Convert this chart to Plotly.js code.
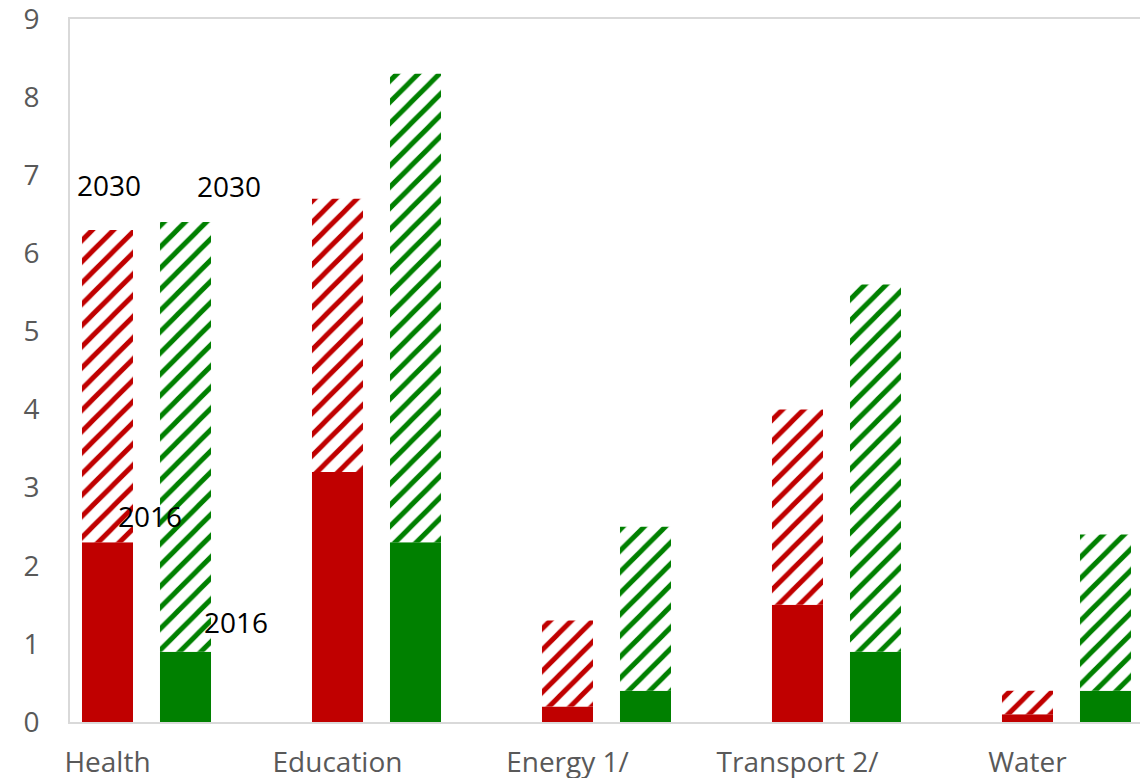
<!DOCTYPE html>
<html>
<head>
<meta charset="utf-8">
<script src="https://cdn.plot.ly/plotly-3.0.1.min.js"></script>
<style>html,body{margin:0;padding:0;background:#fff;}#chart{width:1140px;height:778px;}</style>
</head>
<body>
<div id="chart"></div>
<script>
var categories = ["Health", "Education", "Energy 1/", "Transport 2/", "Water"];
var red2016 = [2.3, 3.2, 0.2, 1.5, 0.1];
var red2030 = [6.3, 6.7, 1.3, 4.0, 0.4];
var green2016 = [0.9, 2.3, 0.4, 0.9, 0.4];
var green2030 = [6.4, 8.3, 2.5, 5.6, 2.4];
var yTicks = [0, 1, 2, 3, 4, 5, 6, 7, 8, 9];

var RED = "#C00000", GREEN = "#008000";
var idx = categories.map(function (c, i) { return i; });
function diff(a, b) { return a.map(function (v, i) { return +(v - b[i]).toFixed(3); }); }

var pat = function (c) { return {shape: "/", fgcolor: c, bgcolor: "#ffffff", size: 15, solidity: 0.33, fillmode: "replace"}; };

var traces = [
  {type: "bar", x: idx, y: red2016, offsetgroup: "r", marker: {color: RED, line: {width: 0}}, hoverinfo: "skip"},
  {type: "bar", x: idx, y: diff(red2030, red2016), base: red2016, offsetgroup: "r",
   marker: {color: RED, pattern: pat(RED), line: {width: 0}}, hoverinfo: "skip"},
  {type: "bar", x: idx, y: green2016, offsetgroup: "g", marker: {color: GREEN, line: {width: 0}}, hoverinfo: "skip"},
  {type: "bar", x: idx, y: diff(green2030, green2016), base: green2016, offsetgroup: "g",
   marker: {color: GREEN, pattern: pat(GREEN), line: {width: 0}}, hoverinfo: "skip"}
];

var annFont = {family: "Open Sans, sans-serif", size: 28, color: "#000000"};
var layout = {
  width: 1140, height: 778,
  margin: {l: 70, r: 0, t: 19, b: 56},
  paper_bgcolor: "#ffffff", plot_bgcolor: "#ffffff",
  showlegend: false,
  barmode: "group", bargap: 0.3217, bargroupgap: 0.346,
  font: {family: "Open Sans, sans-serif", size: 28, color: "#595959"},
  xaxis: {
    type: "linear", range: [-0.3326, 4.3196],
    tickmode: "array", tickvals: idx, ticktext: categories,
    showgrid: false, zeroline: false,
    showline: true, linecolor: "#d9d9d9", linewidth: 2, mirror: true,
    ticks: "", ticklabelshift: -39, ticklabelstandoff: 14, ticklabeloverflow: "allow",
    tickfont: {family: "Open Sans, sans-serif", size: 28, color: "#595959"}
  },
  yaxis: {
    range: [0, 9], tickmode: "array", tickvals: yTicks,
    showgrid: false, zeroline: false,
    showline: true, linecolor: "#d9d9d9", linewidth: 2,
    ticks: "", ticklabelstandoff: 23, ticklabeloverflow: "allow",
    tickfont: {family: "Open Sans, sans-serif", size: 28, color: "#595959"}
  },
  annotations: [
    {x: -0.163, y: 6.875, text: "2030", showarrow: false, font: annFont},
    {x: 0.359, y: 6.862, text: "2030", showarrow: false, font: annFont},
    {x: 0.015, y: 2.637, text: "2016", showarrow: false, font: annFont},
    {x: 0.387, y: 1.28, text: "2016", showarrow: false, font: annFont}
  ]
};

Plotly.newPlot("chart", traces, layout, {displayModeBar: false, staticPlot: true});
</script>
</body>
</html>
